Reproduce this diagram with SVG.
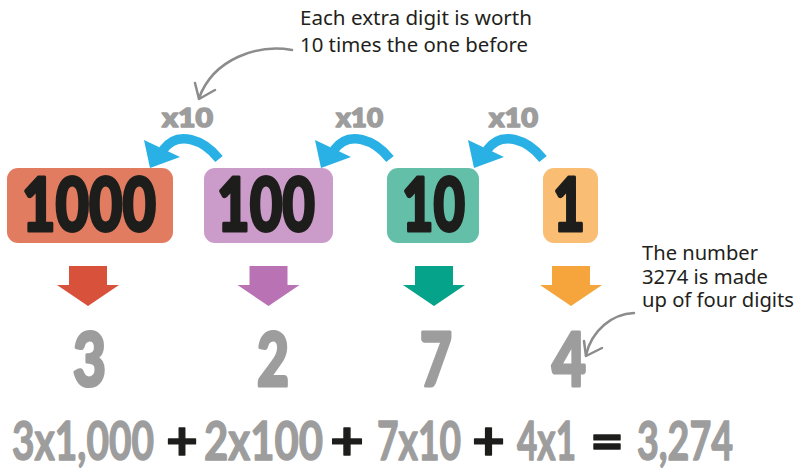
<svg xmlns="http://www.w3.org/2000/svg" width="809" height="468" viewBox="0 0 809 468">
<style>
.box-num{font-family:"Lato","Roboto",sans-serif;font-weight:900;font-size:75px;fill:#1d1d1b;stroke:#1d1d1b;stroke-width:3.2;stroke-linejoin:round}
.digit{font-family:"Lato","Roboto",sans-serif;font-weight:900;font-size:75px;fill:#9d9d9d;stroke:#9d9d9d;stroke-width:3.2;stroke-linejoin:round}
.x10{font-family:"Lato","Roboto",sans-serif;font-weight:900;font-size:27px;fill:#9d9d9d;stroke:#9d9d9d;stroke-width:1.6;stroke-linejoin:round}
.eq{font-family:"Lato","Roboto",sans-serif;font-weight:700;font-size:54px;fill:#9d9d9d;stroke:#9d9d9d;stroke-width:1.4;stroke-linejoin:round}
.op{fill:#1d1d1b;stroke:#1d1d1b}
.note{font-family:"Noto Sans","Open Sans",sans-serif;font-size:20.5px;fill:#231f20}
.blue-band{fill:none;stroke:#29b1e6;stroke-width:9.5}
.blue-head{fill:#29b1e6}
.callout{fill:none;stroke:#8c8c8c;stroke-width:2.5;stroke-linecap:round;stroke-linejoin:round}
</style>
<defs>
<g id="curl">
<path class="blue-band" d="M 219 159 C 204 140, 178 129.5, 163 150"/>
<polygon class="blue-head" points="144,140 180,157 150,168"/>
</g>
<polygon id="down" points="-19,266 19,266 19,285 31,285 0,306 -31,285 -19,285"/>
</defs>

<g id="node-1000">
<rect x="7" y="168" width="166" height="75" rx="11" fill="#e27c60"/>
<text class="box-num" x="22" y="231" textLength="134" lengthAdjust="spacingAndGlyphs">1000</text>
</g>
<g id="node-100">
<rect x="204" y="168" width="129" height="75" rx="11" fill="#cb9cca"/>
<text class="box-num" x="217" y="231" textLength="98" lengthAdjust="spacingAndGlyphs">100</text>
</g>
<g id="node-10">
<rect x="387" y="168" width="92" height="75" rx="11" fill="#64bfa9"/>
<text class="box-num" x="402" y="231" textLength="63" lengthAdjust="spacingAndGlyphs">10</text>
</g>
<g id="node-1">
<rect x="543" y="168" width="55" height="75" rx="11" fill="#f9be73"/>
<text class="box-num" x="553" y="231" textLength="32" lengthAdjust="spacingAndGlyphs">1</text>
</g>

<g id="connectors">
<use href="#curl"/>
<use href="#curl" transform="translate(171,0)"/>
<use href="#curl" transform="translate(324,0)"/>
<use href="#down" transform="translate(88,0)" fill="#d8513a"/>
<use href="#down" transform="translate(268.5,0)" fill="#b972b4"/>
<use href="#down" transform="translate(434,0)" fill="#05a389"/>
<use href="#down" transform="translate(571,0)" fill="#f5a53c"/>
<path class="callout" d="M 292 50 C 258 44, 214 58, 199 98"/>
<path class="callout" d="M 195 83 L 199 99 L 215 90"/>
<path class="callout" d="M 634 313 C 612 314, 592 330, 586 355"/>
<path class="callout" d="M 584 341 L 586 356 L 602 348"/>
</g>

<g id="labels-x10">
<text class="x10" x="162" y="127" textLength="51" lengthAdjust="spacingAndGlyphs">x10</text>
<text class="x10" x="336" y="127" textLength="47" lengthAdjust="spacingAndGlyphs">x10</text>
<text class="x10" x="489" y="127" textLength="49" lengthAdjust="spacingAndGlyphs">x10</text>
</g>

<g id="digits">
<text class="digit" x="73" y="386" textLength="33" lengthAdjust="spacingAndGlyphs">3</text>
<text class="digit" x="257" y="386" textLength="32" lengthAdjust="spacingAndGlyphs">2</text>
<text class="digit" x="420" y="386" textLength="32" lengthAdjust="spacingAndGlyphs">7</text>
<text class="digit" x="552" y="386" textLength="34" lengthAdjust="spacingAndGlyphs">4</text>
</g>

<g id="note-top">
<text class="note" x="300" y="25" textLength="232" lengthAdjust="spacingAndGlyphs">Each extra digit is worth</text>
<text class="note" x="300" y="52" textLength="228" lengthAdjust="spacingAndGlyphs">10 times the one before</text>
</g>
<g id="note-right">
<text class="note" x="642" y="260" textLength="116" lengthAdjust="spacingAndGlyphs">The number</text>
<text class="note" x="642" y="284" textLength="126" lengthAdjust="spacingAndGlyphs">3274 is made</text>
<text class="note" x="642" y="307" textLength="152" lengthAdjust="spacingAndGlyphs">up of four digits</text>
</g>

<g id="equation">
<text class="eq" x="12" y="460" textLength="142" lengthAdjust="spacingAndGlyphs">3x1,000</text>
<text class="eq op" x="166" y="460" textLength="32" lengthAdjust="spacingAndGlyphs">+</text>
<text class="eq" x="204" y="460" textLength="119" lengthAdjust="spacingAndGlyphs">2x100</text>
<text class="eq op" x="330" y="460" textLength="34" lengthAdjust="spacingAndGlyphs">+</text>
<text class="eq" x="377" y="460" textLength="84" lengthAdjust="spacingAndGlyphs">7x10</text>
<text class="eq op" x="472" y="460" textLength="33" lengthAdjust="spacingAndGlyphs">+</text>
<text class="eq" x="517" y="460" textLength="59" lengthAdjust="spacingAndGlyphs">4x1</text>
<text class="eq op" x="590" y="460" textLength="34" lengthAdjust="spacingAndGlyphs">=</text>
<text class="eq" x="637" y="460" textLength="96" lengthAdjust="spacingAndGlyphs">3,274</text>
</g>
</svg>
